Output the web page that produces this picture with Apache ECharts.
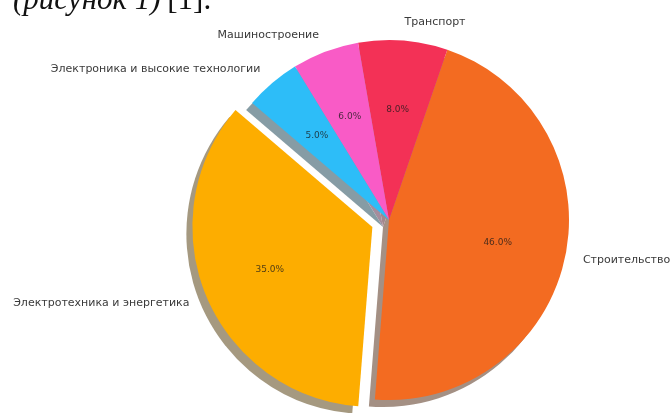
<!DOCTYPE html>
<html>
<head>
<meta charset="utf-8">
<script src="https://cdn.jsdelivr.net/npm/echarts@6/dist/echarts.min.js"></script>
<style>
  html, body { margin: 0; padding: 0; background: #ffffff; }
  #chart { width: 670px; height: 413px; }
</style>
</head>
<body>
<div id="chart"></div>
<script>
// Industry shares, in percent
const sectors = [
  'Строительство',
  'Транспорт',
  'Машиностроение',
  'Электроника и высокие технологии',
  'Электротехника и энергетика'
];
const shares = [46, 8, 6, 5, 35];
const explodedSector = 'Электротехника и энергетика';

// Slice colours
const sliceColors = ['#f36b21', '#f33156', '#f95bc6', '#2dbdf8', '#fdad00'];

// Geometry and style
const CX = 389, CY = 220, R = 180;
const SHADOW_DX = -6, SHADOW_DY = 7;
const START = -94.5;
const EXPLODE = 18;
const LABEL_FONT = 'DejaVu Sans';

// Shadow tone: 30% of the slice colour, half-transparent over white
function shadowOf(hex) {
  const n = parseInt(hex.slice(1), 16);
  const ch = [(n >> 16) & 255, (n >> 8) & 255, n & 255].map(c => Math.round(0.3 * c * 0.5 + 255 * 0.5));
  return 'rgb(' + ch.join(',') + ')';
}

function pieData(colorFn) {
  return sectors.map((name, i) => ({
    name: name,
    value: shares[i],
    selected: name === explodedSector,
    itemStyle: { color: colorFn(i) }
  }));
}

const common = {
  type: 'pie',
  startAngle: START,
  clockwise: false,
  selectedMode: 'single',
  selectedOffset: EXPLODE,
  avoidLabelOverlap: false,
  animation: false,
  emphasis: { disabled: true },
  select: { disabled: false, itemStyle: {} },
  itemStyle: { borderWidth: 0 }
};

const chart = echarts.init(document.getElementById('chart'), null, { renderer: 'canvas' });

chart.setOption({
  backgroundColor: '#ffffff',
  animation: false,
  tooltip: { show: false },
  graphic: [{
    type: 'text',
    x: 13,
    y: 1,
    silent: true,
    style: {
      text: '{i|(рисунок 1)}  {n|[1].}',
      verticalAlign: 'middle',
      fill: '#111',
      rich: {
        i: { fontFamily: 'Liberation Serif', fontStyle: 'italic', fontSize: 31, fill: '#111' },
        n: { fontFamily: 'Liberation Serif', fontSize: 31, fill: '#111' }
      }
    }
  }],
  series: [
    // drop shadow under the pie
    Object.assign({}, common, {
      name: 'shadow',
      silent: true,
      center: [CX + SHADOW_DX, CY + SHADOW_DY],
      radius: R,
      label: { show: false },
      labelLine: { show: false },
      data: pieData(i => shadowOf(sliceColors[i]))
    }),
    // slices with outer category labels
    Object.assign({}, common, {
      name: 'sectors',
      center: [CX, CY],
      radius: R,
      label: {
        show: true,
        position: 'outside',
        formatter: '{b}',
        fontFamily: LABEL_FONT,
        fontSize: 11,
        color: '#3a3a3a',
        distanceToLabelLine: 0
      },
      labelLine: { show: false, length: 18, length2: 0 },
      data: pieData(i => sliceColors[i])
    }),
    // percentage labels at 0.6 of the radius
    Object.assign({}, common, {
      name: 'percent',
      silent: true,
      center: [CX, CY],
      radius: [R * 0.2, R],
      label: {
        show: true,
        position: 'inside',
        formatter: p => p.percent.toFixed(1) + '%',
        fontFamily: LABEL_FONT,
        fontSize: 9,
        color: 'rgba(25,25,25,0.78)'
      },
      labelLine: { show: false },
      data: pieData(() => 'rgba(0,0,0,0)')
    })
  ]
});
</script>
</body>
</html>
